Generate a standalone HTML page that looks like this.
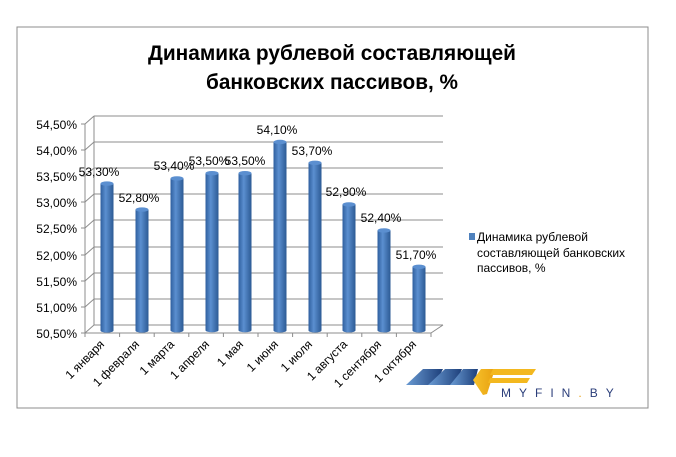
<!DOCTYPE html>
<html><head><meta charset="utf-8"><style>
body{margin:0;background:#fff;width:676px;height:452px;overflow:hidden}
svg text{font-family:"Liberation Sans",sans-serif}
</style></head><body>
<svg width="676" height="452" viewBox="0 0 676 452">
<defs>
<linearGradient id="bar" x1="0" x2="1" y1="0" y2="0">
<stop offset="0" stop-color="#2f5f9e"/><stop offset="0.4" stop-color="#5b8fd0"/><stop offset="1" stop-color="#2c5a94"/>
</linearGradient>
<linearGradient id="y1" x1="0" x2="1"><stop offset="0" stop-color="#f7c22b"/><stop offset="1" stop-color="#e8a010"/></linearGradient>
<linearGradient id="b1" x1="0" x2="1"><stop offset="0" stop-color="#6a9bd3"/><stop offset="1" stop-color="#1d3f7a"/></linearGradient>
</defs>
<rect x="17" y="27" width="631" height="381" fill="#fff" stroke="#8c8c8c" stroke-width="1"/>
<text x="332" y="60" font-size="21" font-weight="bold" text-anchor="middle" fill="#000" textLength="368" lengthAdjust="spacingAndGlyphs">Динамика рублевой составляющей</text>
<text x="332" y="89" font-size="21" font-weight="bold" text-anchor="middle" fill="#000" textLength="252" lengthAdjust="spacingAndGlyphs">банковских пассивов, %</text>
<g stroke="#8c8c8c" stroke-width="1" fill="none">
<line x1="94" y1="116" x2="94" y2="325"/>
<line x1="85" y1="124" x2="85" y2="333"/>
<line x1="94" y1="116" x2="443" y2="116"/><line x1="85" y1="124" x2="94" y2="116"/>
<line x1="94" y1="142" x2="443" y2="142"/><line x1="85" y1="150" x2="94" y2="142"/>
<line x1="94" y1="168" x2="443" y2="168"/><line x1="85" y1="176" x2="94" y2="168"/>
<line x1="94" y1="194" x2="443" y2="194"/><line x1="85" y1="202" x2="94" y2="194"/>
<line x1="94" y1="220" x2="443" y2="220"/><line x1="85" y1="228" x2="94" y2="220"/>
<line x1="94" y1="247" x2="443" y2="247"/><line x1="85" y1="255" x2="94" y2="247"/>
<line x1="94" y1="273" x2="443" y2="273"/><line x1="85" y1="281" x2="94" y2="273"/>
<line x1="94" y1="299" x2="443" y2="299"/><line x1="85" y1="307" x2="94" y2="299"/>
<line x1="94" y1="325" x2="443" y2="325"/><line x1="85" y1="333" x2="94" y2="325"/>
<line x1="85" y1="333" x2="431" y2="333"/><line x1="431" y1="333" x2="443" y2="325"/>
<line x1="81" y1="124" x2="85" y2="124"/><line x1="81" y1="150" x2="85" y2="150"/><line x1="81" y1="176" x2="85" y2="176"/><line x1="81" y1="202" x2="85" y2="202"/><line x1="81" y1="228" x2="85" y2="228"/><line x1="81" y1="255" x2="85" y2="255"/><line x1="81" y1="281" x2="85" y2="281"/><line x1="81" y1="307" x2="85" y2="307"/><line x1="81" y1="333" x2="85" y2="333"/>
<path d="M85 333v4M119.6 333v4M154.2 333v4M188.8 333v4M223.4 333v4M258 333v4M292.6 333v4M327.2 333v4M361.8 333v4M396.4 333v4M431 333v4"/>
</g>
<g font-size="12" fill="#000" text-anchor="end">
<text x="77" y="129">54,50%</text><text x="77" y="155">54,00%</text><text x="77" y="181">53,50%</text><text x="77" y="207">53,00%</text><text x="77" y="233">52,50%</text><text x="77" y="260">52,00%</text><text x="77" y="286">51,50%</text><text x="77" y="312">51,00%</text><text x="77" y="338">50,50%</text>
</g>
<g fill="url(#bar)">
<path d="M100.5 183.6h13v147a6.5 2 0 0 1 -13 0z"/><ellipse cx="107" cy="183.6" rx="6.5" ry="2.2" fill="#5b8fd0"/>
<path d="M135.5 209.6h13v121a6.5 2 0 0 1 -13 0z"/><ellipse cx="142" cy="209.6" rx="6.5" ry="2.2" fill="#5b8fd0"/>
<path d="M170.5 178.4h13v152a6.5 2 0 0 1 -13 0z"/><ellipse cx="177" cy="178.4" rx="6.5" ry="2.2" fill="#5b8fd0"/>
<path d="M205.5 173.2h13v157a6.5 2 0 0 1 -13 0z"/><ellipse cx="212" cy="173.2" rx="6.5" ry="2.2" fill="#5b8fd0"/>
<path d="M238.5 173.2h13v157a6.5 2 0 0 1 -13 0z"/><ellipse cx="245" cy="173.2" rx="6.5" ry="2.2" fill="#5b8fd0"/>
<path d="M273.5 142h13v188.5a6.5 2 0 0 1 -13 0z"/><ellipse cx="280" cy="142" rx="6.5" ry="2.2" fill="#5b8fd0"/>
<path d="M308.5 162.8h13v167.7a6.5 2 0 0 1 -13 0z"/><ellipse cx="315" cy="162.8" rx="6.5" ry="2.2" fill="#5b8fd0"/>
<path d="M342.5 204.4h13v126a6.5 2 0 0 1 -13 0z"/><ellipse cx="349" cy="204.4" rx="6.5" ry="2.2" fill="#5b8fd0"/>
<path d="M377.5 230.4h13v100a6.5 2 0 0 1 -13 0z"/><ellipse cx="384" cy="230.4" rx="6.5" ry="2.2" fill="#5b8fd0"/>
<path d="M412.5 266.8h13v63.7a6.5 2 0 0 1 -13 0z"/><ellipse cx="419" cy="266.8" rx="6.5" ry="2.2" fill="#5b8fd0"/>
</g>
<g font-size="12" fill="#000" text-anchor="middle">
<text x="99" y="176">53,30%</text><text x="139" y="202">52,80%</text><text x="174" y="170">53,40%</text><text x="209" y="165">53,50%</text><text x="245" y="165">53,50%</text><text x="277" y="134">54,10%</text><text x="312" y="155">53,70%</text><text x="346" y="196">52,90%</text><text x="381" y="222">52,40%</text><text x="416" y="259">51,70%</text>
</g>
<g font-size="12" fill="#000" text-anchor="end">
<text transform="translate(105,345) rotate(-45)">1 января</text>
<text transform="translate(140,345) rotate(-45)">1 февраля</text>
<text transform="translate(175,345) rotate(-45)">1 марта</text>
<text transform="translate(210,345) rotate(-45)">1 апреля</text>
<text transform="translate(244,345) rotate(-45)">1 мая</text>
<text transform="translate(279,345) rotate(-45)">1 июня</text>
<text transform="translate(313,345) rotate(-45)">1 июля</text>
<text transform="translate(348,345) rotate(-45)">1 августа</text>
<text transform="translate(382,345) rotate(-45)">1 сентября</text>
<text transform="translate(417,345) rotate(-45)">1 октября</text>
</g>
<rect x="469" y="233" width="6" height="7" fill="#4f81bd"/>
<g font-size="12" fill="#000">
<text x="477" y="241">Динамика рублевой</text>
<text x="477" y="257">составляющей банковских</text>
<text x="477" y="272">пассивов, %</text>
</g>
<g>
<polygon points="406,385 423,369 443,369 435,385" fill="url(#b1)"/>
<polygon points="428,385 445,369 462,369 455,385" fill="url(#b1)"/>
<polygon points="450,385 463,369 478,369 474,385" fill="url(#b1)"/>
<polygon points="473,380 481,369 495,369 487,394 483,395" fill="url(#y1)"/>
<polygon points="493,369 536,369 532,375 490,375" fill="#f3b81f"/>
<polygon points="490,378 530,378 527,383 488,383" fill="#f3b81f"/>
<text x="501" y="397" font-size="12" fill="#2b3e7a" letter-spacing="8">MYFIN<tspan fill="#e9a317">.</tspan>BY</text>
</g>
</svg>
</body></html>
